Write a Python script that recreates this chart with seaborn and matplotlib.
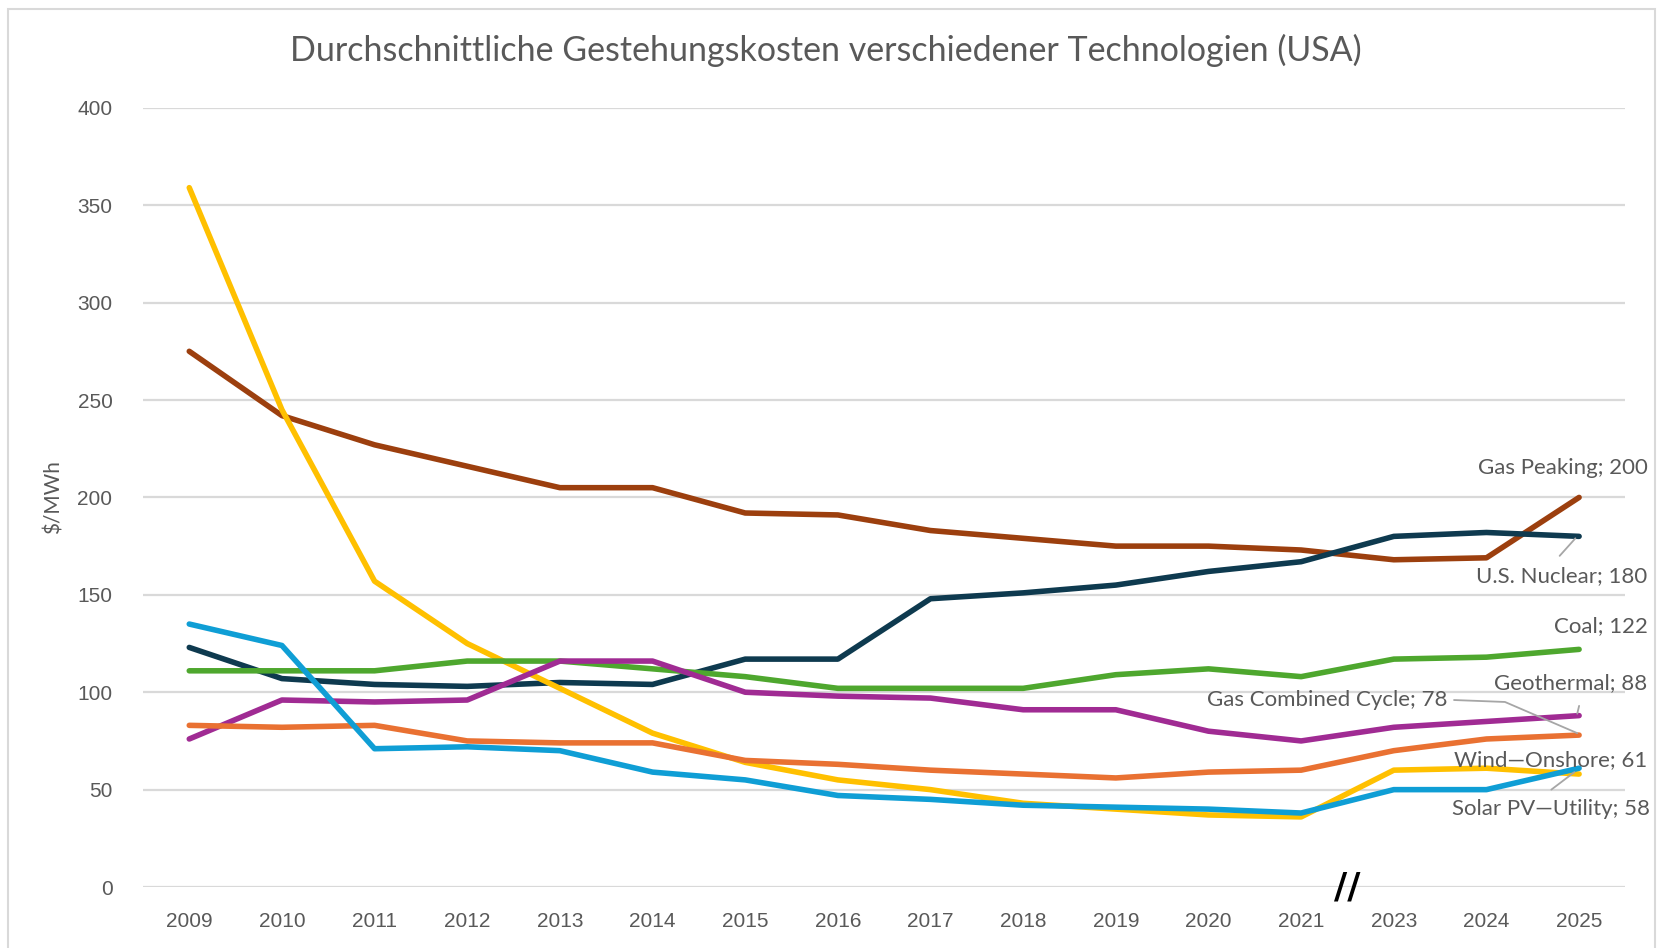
import pandas as pd
import matplotlib.pyplot as plt
import seaborn as sns
from matplotlib.patches import Rectangle

# data
years = ['2009', '2010', '2011', '2012', '2013', '2014', '2015', '2016',
         '2017', '2018', '2019', '2020', '2021', '2023', '2024', '2025']

gas_peaking = [275, 242, 227, 216, 205, 205, 192, 191, 183, 179, 175, 175, 173, 168, 169, 200]
us_nuclear = [123, 107, 104, 103, 105, 104, 117, 117, 148, 151, 155, 162, 167, 180, 182, 180]
coal = [111, 111, 111, 116, 116, 112, 108, 102, 102, 102, 109, 112, 108, 117, 118, 122]
geothermal = [76, 96, 95, 96, 116, 116, 100, 98, 97, 91, 91, 80, 75, 82, 85, 88]
gas_cc = [83, 82, 83, 75, 74, 74, 65, 63, 60, 58, 56, 59, 60, 70, 76, 78]
wind_onshore = [135, 124, 71, 72, 70, 59, 55, 47, 45, 42, 41, 40, 38, 50, 50, 61]
solar_pv = [359, 245, 157, 125, 102, 79, 64, 55, 50, 43, 40, 37, 36, 60, 61, 58]

series = {
    'Gas Peaking': gas_peaking,
    'U.S. Nuclear': us_nuclear,
    'Solar PV—Utility': solar_pv,
    'Coal': coal,
    'Geothermal': geothermal,
    'Gas Combined Cycle': gas_cc,
    'Wind—Onshore': wind_onshore,
}
colors = {
    'Gas Peaking': '#9C3F0E',
    'U.S. Nuclear': '#0E3A4F',
    'Solar PV—Utility': '#FFC000',
    'Coal': '#4EA72E',
    'Geothermal': '#A02B93',
    'Gas Combined Cycle': '#E97132',
    'Wind—Onshore': '#0F9ED5',
}

rows = []
for name, vals in series.items():
    for i, v in enumerate(vals):
        rows.append({'pos': i, 'tech': name, 'value': v})
df = pd.DataFrame(rows)

sns.set_theme(style='white')
plt.rcParams['font.family'] = ['Lato', 'DejaVu Sans']
grey = '#595959'

fig = plt.figure(figsize=(16.62, 9.48), dpi=100)
ax = fig.add_axes([0.086, 0.0643, 0.892, 0.822])

sns.lineplot(data=df, x='pos', y='value', hue='tech', palette=colors,
             linewidth=4.0, legend=False, ax=ax, solid_capstyle='round')

ax.set_xlim(-0.5, len(years) - 0.5)
ax.set_ylim(0, 400)
ax.set_yticks(range(0, 401, 50))
ax.set_xticks(range(len(years)))
ax.set_xticklabels(years)
ax.tick_params(axis='both', colors=grey, labelsize=15, length=0)
ax.tick_params(axis='y', pad=22)
ax.tick_params(axis='x', pad=18)
for t in ax.get_xticklabels() + ax.get_yticklabels():
    t.set_fontfamily('Liberation Sans')
ax.yaxis.grid(True, color='#D9D9D9', linewidth=1.6)
ax.set_axisbelow(True)
for s in ax.spines.values():
    s.set_visible(False)
ax.set_xlabel('')
ax.set_ylabel(r'\$/MWh', color=grey, fontsize=15, labelpad=10)

fig.text(0.497, 0.947, 'Durchschnittliche Gestehungskosten verschiedener Technologien (USA)',
         ha='center', va='center', fontsize=24.5, color=grey)

# end labels
lab = dict(ha='right', va='center', fontsize=16, color=grey, clip_on=False)
last = len(years) - 1
ax.text(15.74, 215, 'Gas Peaking; 200', **lab)
ax.text(15.74, 159.5, 'U.S. Nuclear; 180', **lab)
ax.text(15.74, 134, 'Coal; 122', **lab)
ax.text(15.74, 104.5, 'Geothermal; 88', **lab)
ax.text(13.58, 96, 'Gas Combined Cycle; 78', **lab)
ax.text(15.74, 65, 'Wind—Onshore; 61', **lab)
ax.text(15.76, 40, 'Solar PV—Utility; 58', **lab)

lead = dict(color='#A6A6A6', linewidth=1.3, clip_on=False)
ax.plot([14.79, last - 0.04], [170, us_nuclear[-1] - 1], **lead)
ax.plot([15.0, last - 0.02], [93, geothermal[-1] + 1], **lead)
ax.plot([13.65, 14.2, last - 0.02], [96, 95, gas_cc[-1] + 1], **lead)
ax.plot([14.7, last - 0.05], [50, solar_pv[-1] + 1], **lead)

# axis break mark between 2021 and 2023
ax.text(12.5, 0, '//', ha='center', va='center', fontsize=26, color='black',
        fontweight='bold', fontfamily='DejaVu Sans', clip_on=False)

fig.patches.append(Rectangle((0.005, -0.01), 0.991, 1.0, transform=fig.transFigure,
                             fill=False, edgecolor='#D9D9D9', linewidth=1.5))

fig.savefig('out.png', dpi=100)
